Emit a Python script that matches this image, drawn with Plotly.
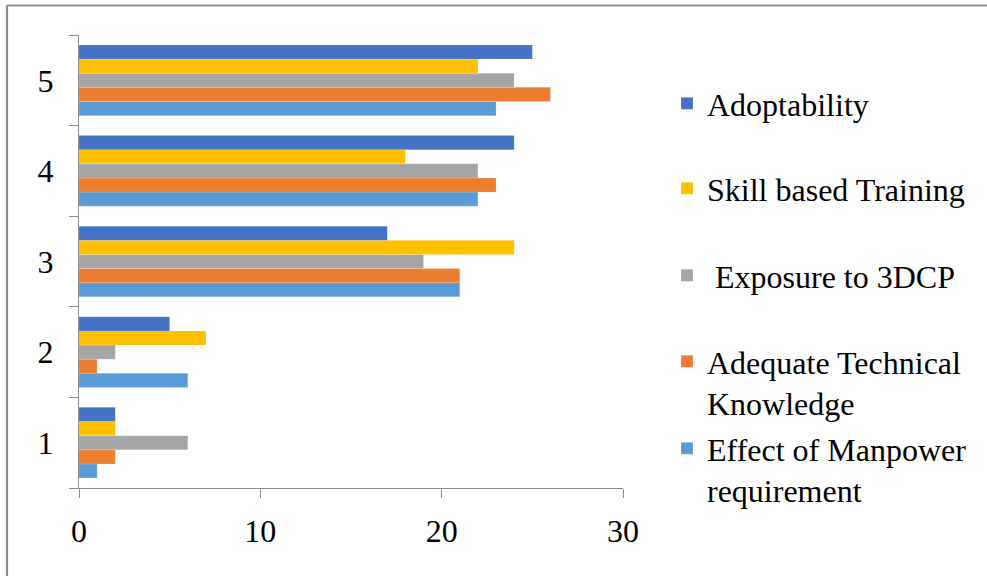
import plotly.graph_objects as go

# Survey rating levels (y categories) and counts per factor
levels = ["1", "2", "3", "4", "5"]

adoptability = [2, 5, 17, 24, 25]
skill_training = [2, 7, 24, 18, 22]
exposure_3dcp = [6, 2, 19, 22, 24]
technical_knowledge = [2, 1, 21, 23, 26]
manpower_effect = [1, 6, 21, 22, 23]

x_ticks = [0, 10, 20, 30]

# Series listed bottom-to-top inside each group; legend entries top-to-bottom
series = [
    ("Effect of Manpower<br>requirement", manpower_effect, "#5B9BD5", "legend5"),
    ("Adequate Technical<br>Knowledge", technical_knowledge, "#ED7D31", "legend4"),
    (" Exposure to 3DCP", exposure_3dcp, "#A5A5A5", "legend3"),
    ("Skill based Training", skill_training, "#FFC000", "legend2"),
    ("Adoptability", adoptability, "#4472C4", "legend"),
]

FONT = "Times New Roman, Liberation Serif, serif"
FS = 32
W, H = 987, 576
ML, MR, MT, MB = 79, 364, 35, 88
PW, PH = W - ML - MR, H - MT - MB


def px_x(px):
    return (px - ML) / PW


def px_y(py):
    return (H - MB - py) / PH


fig = go.Figure()
for name, vals, color, leg in series:
    fig.add_trace(go.Bar(
        y=levels, x=vals, name=name, orientation="h",
        marker=dict(color=color, line=dict(color="rgba(255,255,255,0.35)", width=0.5)),
        legend=leg,
    ))

# one legend box per series so each entry sits at its own height
legend_tops = {"legend": 76, "legend2": 161, "legend3": 248, "legend4": 334, "legend5": 421}
legend_layouts = {}
for key, top in legend_tops.items():
    legend_layouts[key] = dict(
        x=px_x(667), y=px_y(top), xanchor="left", yanchor="top",
        xref="paper", yref="paper",
        font=dict(family=FONT, size=FS, color="#000000"),
        bgcolor="rgba(0,0,0,0)", borderwidth=0, valign="top",
        itemwidth=30, tracegroupgap=0,
    )

axis_color = "#8C8C8C"

fig.update_layout(
    width=W, height=H,
    margin=dict(l=ML, r=MR, t=MT, b=MB, pad=0),
    paper_bgcolor="white", plot_bgcolor="white",
    barmode="group", bargap=0.22, bargroupgap=0,
    font=dict(family=FONT, size=FS, color="#000000"),
    xaxis=dict(
        range=[0, 30], tickvals=x_ticks, ticktext=[str(v) for v in x_ticks],
        showgrid=False, zeroline=False,
        showline=True, linecolor=axis_color, linewidth=1.3,
        ticks="outside", ticklen=9, tickcolor=axis_color, tickwidth=1.3,
        tickfont=dict(family=FONT, size=FS, color="#000000"),
        ticklabelstandoff=5,
    ),
    yaxis=dict(
        type="category", categoryorder="array", categoryarray=levels,
        tickson="boundaries",
        showgrid=False, zeroline=False,
        showline=True, linecolor=axis_color, linewidth=1.3,
        ticks="outside", ticklen=9, tickcolor=axis_color, tickwidth=1.3,
        tickfont=dict(family=FONT, size=FS, color="#000000"),
        ticklabelstandoff=18,
    ),
    showlegend=True,
    **legend_layouts,
)

# chart-area frame (left and top edges visible)
frame = dict(color="#8F8F8F", width=2.2)
fig.add_shape(type="line", xref="paper", yref="paper",
              x0=px_x(7), y0=px_y(H + 5), x1=px_x(7), y1=px_y(5.5), line=frame)
fig.add_shape(type="line", xref="paper", yref="paper",
              x0=px_x(7), y0=px_y(5.5), x1=px_x(W + 5), y1=px_y(5.5), line=frame)

fig.write_html("out.html")
